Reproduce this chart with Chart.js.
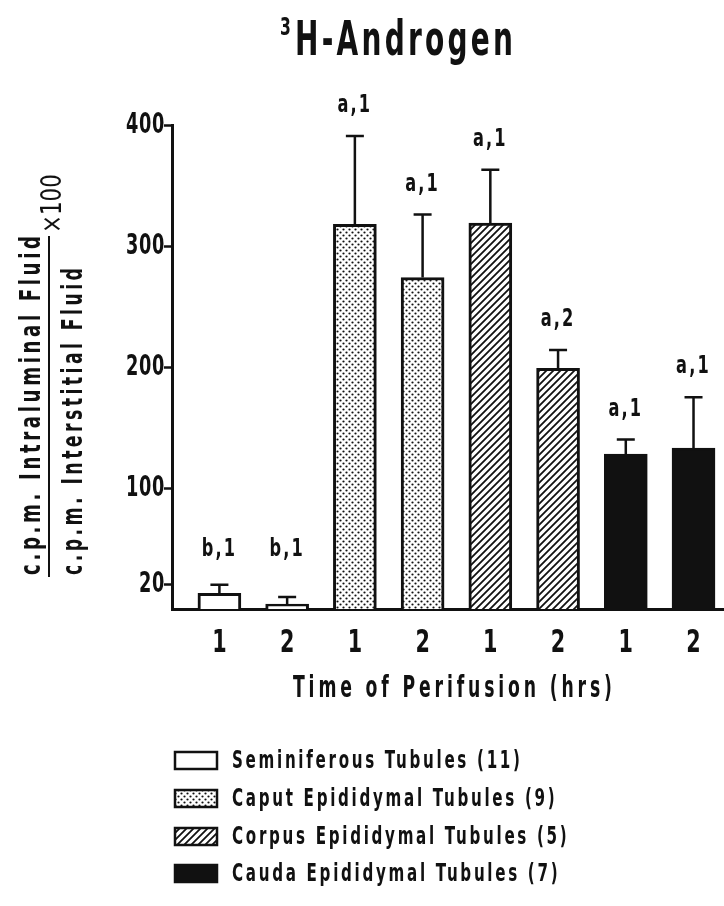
<!DOCTYPE html>
<html>
<head>
<meta charset="utf-8">
<script src="https://cdn.jsdelivr.net/npm/chart.js@4.4.1/dist/chart.umd.min.js"></script>
<style>
  html, body { margin: 0; padding: 0; background: #fff; }
  canvas { display: block; }
</style>
</head>
<body>
<canvas id="chart" width="724" height="906"></canvas>
<script>
// ---- data ----
const hourLabels = ['1', '2', '1', '2', '1', '2', '1', '2'];
const groupNames = [
  'Seminiferous Tubules (11)',
  'Caput Epididymal Tubules (9)',
  'Corpus Epididymal Tubules (5)',
  'Cauda Epididymal Tubules (7)'
];
const seminiferous = [13, 4];
const seminiferousErr = [7, 6];
const caput = [318, 274];
const caputErr = [73, 52];
const corpus = [319, 199];
const corpusErr = [44, 15];
const cauda = [128, 133];
const caudaErr = [12, 42];
const sigLabels = [['b,1', 'b,1'], ['a,1', 'a,1'], ['a,1', 'a,2'], ['a,1', 'a,1']];
const yTicks = [20, 100, 200, 300, 400];

const FONT = '"DejaVu Sans Condensed", "DejaVu Sans", sans-serif';
const NARROW = 0.72; // squeeze to get the tall narrow type of the original

// fill patterns
function makePattern(kind) {
  const c = document.createElement('canvas');
  const s = kind === 'dots' ? 6 : 7;
  c.width = s; c.height = s;
  const g = c.getContext('2d');
  g.fillStyle = '#fff';
  g.fillRect(0, 0, s, s);
  g.fillStyle = '#111';
  g.strokeStyle = '#111';
  if (kind === 'dots') {
    g.beginPath(); g.arc(1.5, 1.5, 1.1, 0, Math.PI * 2); g.fill();
    g.beginPath(); g.arc(4.5, 4.5, 1.1, 0, Math.PI * 2); g.fill();
  } else {
    g.lineWidth = 1.8;
    g.beginPath();
    g.moveTo(-1, s + 1); g.lineTo(s + 1, -1);
    g.moveTo(-1, 1); g.lineTo(1, -1);
    g.moveTo(s - 1, s + 1); g.lineTo(s + 1, s - 1);
    g.stroke();
  }
  return g.createPattern(c, 'repeat');
}

const fills = ['#ffffff', makePattern('dots'), makePattern('hatch'), '#111111'];
const values = [seminiferous, caput, corpus, cauda];
const errors = [seminiferousErr, caputErr, corpusErr, caudaErr];

const datasets = groupNames.map((name, g) => ({
  label: name,
  data: values[g].map((v, h) => ({ x: g * 2 + h, y: v })),
  errs: errors[g],
  sig: sigLabels[g],
  backgroundColor: fills[g],
  borderColor: '#111',
  borderWidth: 3,
  barThickness: 43,
  grouped: false
}));

function setFont(ctx, o) {
  ctx.font = (o.weight || 'bold') + ' ' + o.size + 'px ' + (o.family || FONT);
  ctx.letterSpacing = (o.spacing || 0) + 'px';
}

// squeezed text; if width is given the squeeze is fitted to it
function txt(ctx, text, x, y, o) {
  ctx.save();
  setFont(ctx, o);
  ctx.textAlign = o.align || 'left';
  ctx.textBaseline = o.baseline || 'alphabetic';
  let sx = o.sx || NARROW;
  if (o.width) sx = o.width / (ctx.measureText(text).width - (o.spacing || 0));
  ctx.translate(x, y);
  ctx.scale(sx, 1);
  ctx.fillText(text, 0, 0);
  ctx.restore();
}

const decor = {
  id: 'decor',
  afterDatasetsDraw(chart) {
    const { ctx, scales: { x, y } } = chart;
    ctx.save();
    ctx.strokeStyle = '#111';
    ctx.fillStyle = '#111';
    ctx.lineWidth = 2.5;
    chart.data.datasets.forEach(ds => {
      ds.data.forEach((p, i) => {
        const px = x.getPixelForValue(p.x);
        const top = y.getPixelForValue(p.y);
        const cap = y.getPixelForValue(p.y + ds.errs[i]);
        ctx.beginPath();
        ctx.moveTo(px, top);
        ctx.lineTo(px, cap);
        ctx.moveTo(px - 9, cap);
        ctx.lineTo(px + 9, cap);
        ctx.stroke();
        const base = Math.min(cap - 24, 556);
        txt(ctx, ds.sig[i], px, base, { size: 25, align: 'center', spacing: 3 });
      });
    });

    // tick labels, placed by the scales
    y.ticks.forEach(t => {
      txt(ctx, String(t.value), 165, y.getPixelForValue(t.value), { size: 29, align: 'right', baseline: 'middle', spacing: 1, sx: 0.68 });
    });
    x.ticks.forEach(t => {
      const lab = hourLabels[t.value];
      if (lab) txt(ctx, lab, x.getPixelForValue(t.value), 652, { size: 32, align: 'center' });
    });
    ctx.restore();
  },
  afterDraw(chart) {
    const { ctx } = chart;
    ctx.save();
    ctx.fillStyle = '#111';
    ctx.strokeStyle = '#111';

    // title
    txt(ctx, '3', 280, 35, { size: 24 });
    txt(ctx, 'H-Androgen', 295, 55, { size: 48, spacing: 5, width: 218 });

    // x title
    txt(ctx, 'Time of Perifusion (hrs)', 293, 697, { size: 30, spacing: 6, width: 319 });

    // y title as a fraction, rotated
    ctx.save();
    ctx.rotate(-Math.PI / 2);
    txt(ctx, 'c.p.m. Intraluminal Fluid', -575, 40, { size: 28, spacing: 5, width: 339 });
    txt(ctx, 'c.p.m. Interstitial Fluid', -575, 82, { size: 28, spacing: 5, width: 307 });
    ctx.lineWidth = 2;
    ctx.beginPath();
    ctx.moveTo(-577, 49);
    ctx.lineTo(-236, 49);
    ctx.stroke();
    txt(ctx, '\u00d7100', -233, 54, { size: 28, weight: 'normal', baseline: 'middle', sx: 0.85 });
    ctx.restore();

    // legend: one squeeze for all rows, fitted to the first row
    const leg = { size: 25, spacing: 4, baseline: 'middle' };
    ctx.save();
    setFont(ctx, leg);
    leg.sx = 288 / (ctx.measureText(groupNames[0]).width - leg.spacing);
    ctx.restore();
    const rows = [760, 798, 836, 873];
    groupNames.forEach((name, g) => {
      const ry = rows[g];
      ctx.fillStyle = fills[g];
      ctx.fillRect(175, ry - 8, 42, 17);
      ctx.lineWidth = 2.5;
      ctx.strokeRect(175, ry - 8, 42, 17);
      ctx.fillStyle = '#111';
      txt(ctx, name, 232, ry + 1, leg);
    });
    ctx.restore();
  }
};

new Chart(document.getElementById('chart').getContext('2d'), {
  type: 'bar',
  data: { datasets },
  options: {
    responsive: false,
    animation: false,
    layout: { padding: { top: 125, left: 0, right: 0, bottom: 0 } },
    plugins: { legend: { display: false }, tooltip: { enabled: false } },
    scales: {
      x: {
        type: 'linear',
        offset: false,
        min: -0.7,
        max: 7.45,
        afterBuildTicks: s => { s.ticks = hourLabels.map((_, i) => ({ value: i })); },
        afterFit: s => { s.height = 297; },
        ticks: { display: false },
        grid: { display: true, drawOnChartArea: false, drawTicks: false },
        border: { display: true, color: '#111', width: 3 }
      },
      y: {
        min: 0,
        max: 400,
        afterBuildTicks: s => { s.ticks = yTicks.map(v => ({ value: v })); },
        afterFit: s => { s.width = 172; },
        ticks: { display: false },
        grid: { drawOnChartArea: false, tickLength: 8, tickWidth: 2.5, tickColor: '#111' },
        border: { display: true, color: '#111', width: 3 }
      }
    }
  },
  plugins: [decor]
});
</script>
</body>
</html>
